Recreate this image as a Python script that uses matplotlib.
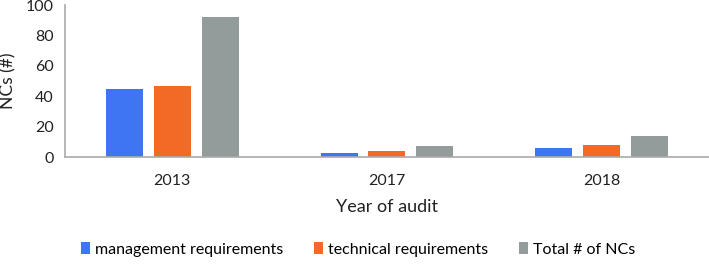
import matplotlib
matplotlib.use("Agg")
import matplotlib.pyplot as plt
import numpy as np

years = ["2013", "2017", "2018"]
management = [45, 3, 6]
technical = [47, 4, 8]
total = [92, 7, 14]
series_names = ["management requirements", "technical requirements", "Total # of NCs"]
colors = ["#3F74F2", "#F26A26", "#939C9A"]

plt.rcParams['font.family'] = ['Lato', 'DejaVu Sans']
fig = plt.figure(figsize=(7.09, 2.64), dpi=100)
ax = fig.add_axes([0.0917, 0.405, 0.908, 0.576])

x = np.arange(len(years))
w = 0.172
step = 0.223
for i, (vals, name, c) in enumerate(zip([management, technical, total], series_names, colors)):
    ax.bar(x + (i - 1) * step, vals, width=w, color=c, label=name)

ax.set_xlim(-0.5, 2.5)
ax.set_ylim(0, 100)
ax.set_yticks([0, 20, 40, 60, 80, 100])
ax.set_xticks(x)
ax.set_xticklabels(years)
ax.tick_params(axis='both', length=0, labelsize=11.5, colors='#222222')
ax.tick_params(axis='x', pad=12)
ax.tick_params(axis='y', pad=8)
for s in ['top', 'right']:
    ax.spines[s].set_visible(False)
for s in ['left', 'bottom']:
    ax.spines[s].set_color('#AAAAAA')
    ax.spines[s].set_linewidth(1.2)
ax.set_xlabel("Year of audit", fontsize=13, color='#222222', labelpad=8)
ax.set_ylabel("NCs (#)", fontsize=12.5, color='#222222', labelpad=7)

fig.legend(loc='center', bbox_to_anchor=(0.505, 0.055), ncol=3, frameon=False,
           fontsize=11.5, handlelength=0.6, handleheight=0.7, handletextpad=0.3,
           columnspacing=1.9)
fig.savefig("out.png", dpi=100)
